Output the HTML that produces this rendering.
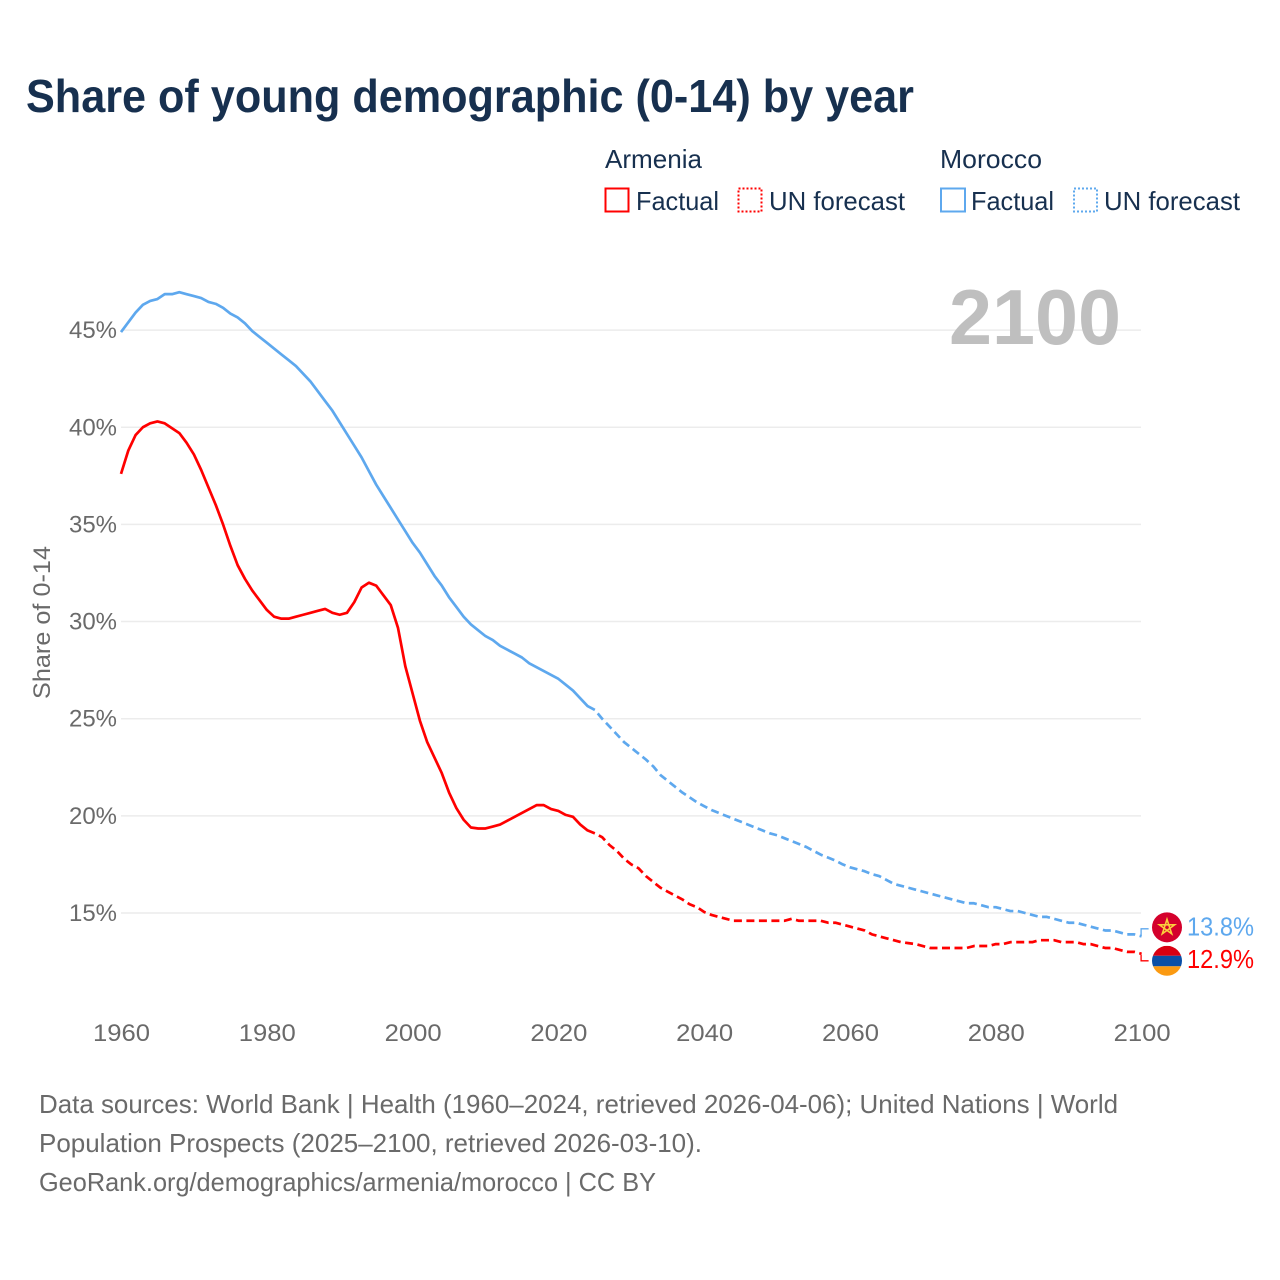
<!DOCTYPE html>
<html lang="en">
<head>
<meta charset="utf-8">
<title>Share of young demographic (0-14) by year</title>
<style>
html,body{margin:0;padding:0;background:#fff;width:1280px;height:1280px;overflow:hidden}
svg{display:block;font-family:"Liberation Sans",sans-serif}
.dark{fill:#17304f}
.grey{fill:#6a6a6a}
</style>
</head>
<body>
<svg id="chart" width="1280" height="1280" viewBox="0 0 1280 1280" xmlns="http://www.w3.org/2000/svg">
  <rect width="1280" height="1280" fill="#fff"/>
  <text x="26" y="112" font-size="46" font-weight="700" class="dark" textLength="888" lengthAdjust="spacingAndGlyphs">Share of young demographic (0-14) by year</text>

  <g id="grid"></g>
  <g id="ylabels"></g>
  <g id="xlabels"></g>

  <text transform="translate(50,699) rotate(-90)" font-size="24" class="grey" textLength="153" lengthAdjust="spacingAndGlyphs">Share of 0-14</text>

  <text x="949" y="344" font-size="78" font-weight="700" fill="#bfbfbf" textLength="172" lengthAdjust="spacingAndGlyphs">2100</text>

  <g id="series"></g>

  <g>
    <text x="605" y="168" font-size="26" class="dark" textLength="97" lengthAdjust="spacingAndGlyphs">Armenia</text>
    <rect x="605.5" y="188.5" width="23" height="23" fill="none" stroke="#ff0000" stroke-width="2"/>
    <text x="636" y="210" font-size="26" class="dark" textLength="83" lengthAdjust="spacingAndGlyphs">Factual</text>
    <rect x="738.5" y="188.5" width="23" height="23" fill="none" stroke="#ff0000" stroke-width="2" stroke-dasharray="2 2"/>
    <text x="769" y="210" font-size="26" class="dark" textLength="136" lengthAdjust="spacingAndGlyphs">UN forecast</text>

    <text x="940" y="168" font-size="26" class="dark" textLength="102" lengthAdjust="spacingAndGlyphs">Morocco</text>
    <rect x="941" y="188.5" width="24" height="23" fill="none" stroke="#5ea8ee" stroke-width="2"/>
    <text x="971" y="210" font-size="26" class="dark" textLength="83" lengthAdjust="spacingAndGlyphs">Factual</text>
    <rect x="1074" y="188.5" width="23" height="23" fill="none" stroke="#5ea8ee" stroke-width="2" stroke-dasharray="2 2"/>
    <text x="1104" y="210" font-size="26" class="dark" textLength="136" lengthAdjust="spacingAndGlyphs">UN forecast</text>
  </g>

  <g>
    <text x="39" y="1113" font-size="26" class="grey" textLength="1079" lengthAdjust="spacingAndGlyphs">Data sources: World Bank | Health (1960–2024, retrieved 2026-04-06); United Nations | World</text>
    <text x="39" y="1152" font-size="26" class="grey" textLength="663" lengthAdjust="spacingAndGlyphs">Population Prospects (2025–2100, retrieved 2026-03-10).</text>
    <text x="39" y="1191" font-size="26" class="grey" textLength="617" lengthAdjust="spacingAndGlyphs">GeoRank.org/demographics/armenia/morocco | CC BY</text>
  </g>
</svg>
<script>
const yTicks = [15, 20, 25, 30, 35, 40, 45];
const xTicks = [1960, 1980, 2000, 2020, 2040, 2060, 2080, 2100];
const factualStartYear = 1960;
const forecastStartYear = 2025;
const armeniaFactual = [
37.6,38.8,39.6,40.0,40.2,40.3,40.2,39.95,39.7,39.2,
38.6,37.8,36.9,36.0,35.0,33.9,32.9,32.2,31.6,31.1,
30.6,30.25,30.15,30.15,30.25,30.35,30.45,30.55,30.65,30.45,
30.35,30.45,31.0,31.75,32.0,31.85,31.35,30.85,29.67,27.7,
26.3,24.9,23.8,23.0,22.2,21.2,20.4,19.8,19.4,19.35,
19.35,19.45,19.55,19.75,19.95,20.15,20.35,20.55,20.55,20.35,
20.25,20.05,19.95,19.55,19.25,19.1];
const armeniaForecast = [
19.1,18.9,18.5,18.2,17.8,17.5,17.3,16.9,16.6,16.3,
16.1,15.9,15.7,15.45,15.3,15.05,14.9,14.8,14.7,14.6,
14.6,14.6,14.6,14.6,14.6,14.6,14.6,14.7,14.6,14.6,
14.6,14.6,14.5,14.5,14.4,14.3,14.2,14.1,13.9,13.8,
13.7,13.6,13.5,13.45,13.4,13.3,13.2,13.2,13.2,13.2,
13.2,13.2,13.3,13.3,13.3,13.4,13.4,13.5,13.5,13.5,
13.5,13.6,13.6,13.6,13.5,13.5,13.5,13.4,13.4,13.3,
13.2,13.2,13.1,13.0,13.0,12.9];
const moroccoFactual = [
44.9,45.4,45.9,46.3,46.5,46.6,46.85,46.85,46.95,46.85,
46.75,46.65,46.45,46.35,46.15,45.85,45.65,45.35,44.95,44.65,
44.35,44.05,43.75,43.45,43.15,42.75,42.35,41.85,41.35,40.85,
40.25,39.65,39.05,38.45,37.75,37.05,36.45,35.85,35.25,34.65,
34.05,33.55,32.95,32.35,31.85,31.25,30.75,30.25,29.85,29.55,
29.25,29.05,28.75,28.55,28.35,28.15,27.85,27.65,27.45,27.25,
27.05,26.75,26.45,26.05,25.65,25.45];
const moroccoForecast = [
25.45,25.0,24.6,24.2,23.8,23.5,23.2,22.9,22.55,22.1,
21.8,21.5,21.2,20.95,20.7,20.5,20.3,20.15,20.0,19.85,
19.7,19.55,19.4,19.25,19.1,19.0,18.85,18.7,18.55,18.4,
18.2,18.0,17.85,17.7,17.5,17.35,17.25,17.15,17.0,16.9,
16.7,16.5,16.4,16.3,16.2,16.1,16.0,15.9,15.8,15.7,
15.6,15.5,15.5,15.4,15.3,15.3,15.2,15.1,15.1,15.0,
14.9,14.8,14.8,14.7,14.6,14.5,14.5,14.4,14.3,14.2,
14.1,14.1,14.0,13.9,13.9,13.8];

const NS = 'http://www.w3.org/2000/svg';
const RED = '#ff0000';
const BLUE = '#5ea8ee';
function xScale(year){ return 121 + (year - 1960) * 7.29; }
function yScale(v){ return 913 - (v - 15) * 19.43; }
function make(tag, attrs, parent){
  const el = document.createElementNS(NS, tag);
  for (const k in attrs) el.setAttribute(k, attrs[k]);
  parent.appendChild(el);
  return el;
}
const gridG = document.getElementById('grid');
const yLabelG = document.getElementById('ylabels');
const xLabelG = document.getElementById('xlabels');
const seriesG = document.getElementById('series');

yTicks.forEach(function(t){
  const line = make('line', {x1:121, x2:1141, y1:yScale(t), y2:yScale(t), stroke:'#ececec', 'stroke-width':1.5}, gridG);
  
  
  const lab = make('text', {x:117, y:yScale(t) + 8, 'font-size':24, 'text-anchor':'end', class:'grey', textLength:48, lengthAdjust:'spacingAndGlyphs'}, yLabelG);
  lab.textContent = t + '%';
  
  
});
xTicks.forEach(function(t){
  const lab = make('text', {x:xScale(t) + 0.5, y:1041, 'font-size':24, 'text-anchor':'middle', class:'grey', textLength:57, lengthAdjust:'spacingAndGlyphs'}, xLabelG);
  lab.textContent = String(t);
  
  
});
function pathFor(values, startYear){
  return values.map(function(v, i){
    return (i ? 'L' : 'M') + xScale(startYear + i).toFixed(2) + ' ' + yScale(v).toFixed(2);
  }).join(' ');
}
function drawLine(values, startYear, color, dashed){
  const attrs = {d:pathFor(values, startYear), fill:'none', stroke:color, 'stroke-width':2.7, 'stroke-linejoin':'round'};
  if (dashed) {
    attrs['stroke-dasharray'] = '8 4.5';
    attrs['stroke-dashoffset'] = '8';
  }
  return make('path', attrs, seriesG);
}
const l1 = drawLine(moroccoFactual, factualStartYear, BLUE, false);


const l2 = drawLine(moroccoForecast, forecastStartYear, BLUE, true);


const l3 = drawLine(armeniaFactual, factualStartYear, RED, false);


const l4 = drawLine(armeniaForecast, forecastStartYear, RED, true);



/* end-of-line labels and flags follow the final values */
const moroccoLast = moroccoForecast[moroccoForecast.length - 1];
const armeniaLast = armeniaForecast[armeniaForecast.length - 1];
const mY = yScale(moroccoLast);
const aY = yScale(armeniaLast);
const mFlagY = mY - 9;
const aFlagY = aY + 7;
const x100 = xScale(2100);

const c1 = make('path', {d:'M' + (x100 - 0.5) + ' ' + (mY - 1) + ' V' + (mFlagY + 1.5) + ' H' + (x100 + 7), fill:'none', stroke:BLUE, 'stroke-width':1.3}, seriesG);


const c2 = make('path', {d:'M' + (x100 - 0.5) + ' ' + (aY + 1) + ' V' + aFlagY + ' H' + (x100 + 7), fill:'none', stroke:RED, 'stroke-width':1.3}, seriesG);



const defs = make('defs', {}, seriesG);
const clip = make('clipPath', {id:'armenia-clip'}, defs);
make('circle', {cx:1167, cy:aFlagY, r:15}, clip);

const mFlag = make('g', {}, seriesG);


make('circle', {cx:1167, cy:mFlagY, r:15, fill:'#d4012c'}, mFlag);
const starPts = [];
for (let i = 0; i < 5; i++){
  const a = -Math.PI / 2 + i * 4 * Math.PI / 5;
  starPts.push((1167 + 8 * Math.cos(a)).toFixed(2) + ',' + (mFlagY + 8 * Math.sin(a)).toFixed(2));
}
make('polygon', {points:starPts.join(' '), fill:'none', stroke:'#fbcf3d', 'stroke-width':1.6}, mFlag);

const aFlag = make('g', {'clip-path':'url(#armenia-clip)'}, seriesG);


make('rect', {x:1152, y:aFlagY - 15, width:30, height:10, fill:'#d90012'}, aFlag);
make('rect', {x:1152, y:aFlagY - 5, width:30, height:10.5, fill:'#0b4fa6'}, aFlag);
make('rect', {x:1152, y:aFlagY + 5.5, width:30, height:10, fill:'#fb9a12'}, aFlag);

const t1 = make('text', {x:1187, y:mFlagY + 8, 'font-size':26, fill:BLUE, textLength:67, lengthAdjust:'spacingAndGlyphs'}, seriesG);
t1.textContent = moroccoLast.toFixed(1) + '%';


const t2 = make('text', {x:1187, y:aFlagY + 7, 'font-size':26, fill:RED, textLength:67, lengthAdjust:'spacingAndGlyphs'}, seriesG);
t2.textContent = armeniaLast.toFixed(1) + '%';


</script>
</body>
</html>
